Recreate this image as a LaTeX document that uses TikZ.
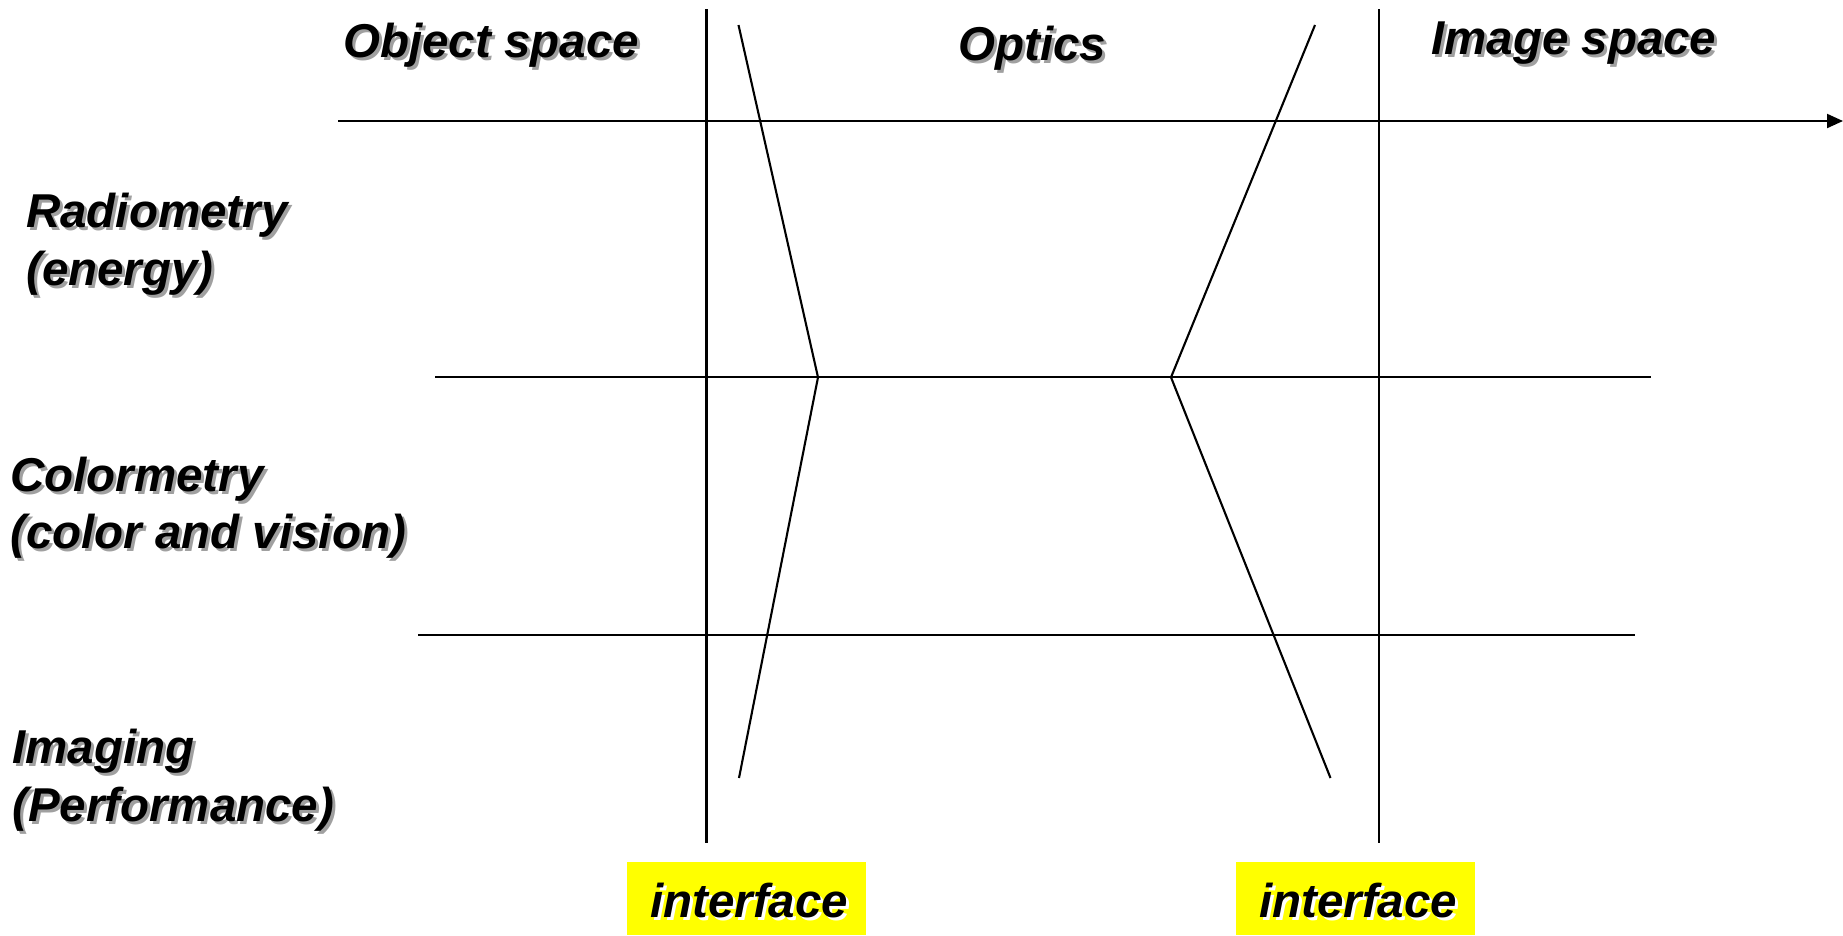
\documentclass[tikz,border=0pt]{standalone}
\usepackage{fontspec}
\setmainfont{Liberation Sans}
\usetikzlibrary{arrows.meta}
\definecolor{shadowgray}{HTML}{A0A0A0}
\definecolor{ifyellow}{HTML}{FFFF00}
\newcommand\shd[2][shadowgray]{\rlap{\kern3pt\raisebox{-3pt}{\color{#1}#2}}#2}
\tikzset{
  lbl/.style={inner sep=0pt, font=\fontsize{47.5}{57}\selectfont\bfseries\itshape},
  ln/.style={line width=2.1pt, black},
  ifbox/.style={fill=ifyellow, draw=none},
}
\begin{document}
\begin{tikzpicture}[x=1pt,y=-1pt]
\useasboundingbox (0,0) rectangle (1843,935);
% coordinates
\coordinate (axL) at (338,121);
\coordinate (axR) at (1843,121);
\coordinate (v1t) at (706.5,9);
\coordinate (v1b) at (706.5,843);
\coordinate (v2t) at (1379,9);
\coordinate (v2b) at (1379,843);
\coordinate (h2L) at (435,377.3);
\coordinate (h2R) at (1651,377.3);
\coordinate (h3L) at (418,634.7);
\coordinate (h3R) at (1635,634.7);
\coordinate (l1t) at (738.5,25);
\coordinate (l1m) at (818,377.3);
\coordinate (l1b) at (739,778);
\coordinate (l2t) at (1315,25);
\coordinate (l2m) at (1171,377.3);
\coordinate (l2b) at (1330.5,778);
% lines
\draw[ln,-{Triangle[length=16pt,width=14pt]}] (axL) -- (axR);
\draw[ln] (v1t) -- (v1b);
\draw[ln] (v2t) -- (v2b);
\draw[ln] (h2L) -- (h2R);
\draw[ln] (h3L) -- (h3R);
\draw[ln] (l1t) -- (l1m) -- (l1b);
\draw[ln] (l2t) -- (l2m) -- (l2b);
% interface boxes
\fill[ifbox] (626.5,861.5) rectangle (866,935);
\fill[ifbox] (1236,861.5) rectangle (1475,935);
\node[lbl,anchor=base west] (if1) at (650,917) {\shd[white]{interface}};
\node[lbl,anchor=base west] (if2) at (1259,917) {\shd[white]{interface}};
% headings
\node[lbl,anchor=base west] (obj) at (343,57.5) {\shd{Object space}};
\node[lbl,anchor=base west] (opt) at (958,60) {\shd{Optics}};
\node[lbl,anchor=base west] (img) at (1431,54) {\shd{Image space}};
% row labels
\node[lbl,anchor=base west] (radA) at (26,227) {\shd{Radiometry}};
\node[lbl,anchor=base west] (radB) at (26,285) {\shd{(energy)}};
\node[lbl,anchor=base west] (colA) at (10,491) {\shd{Colormetry}};
\node[lbl,anchor=base west] (colB) at (10,548) {\shd{(color and vision)}};
\node[lbl,anchor=base west] (imA) at (12,763) {\shd{Imaging}};
\node[lbl,anchor=base west] (imB) at (12,821) {\shd{(Performance)}};
\end{tikzpicture}
\end{document}
